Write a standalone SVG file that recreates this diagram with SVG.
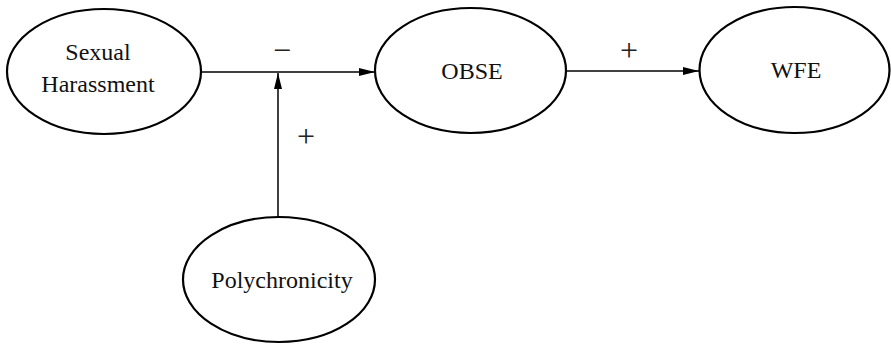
<svg xmlns="http://www.w3.org/2000/svg" width="891" height="344" viewBox="0 0 891 344">
<style>
.node ellipse{fill:#fff;stroke:#000;stroke-width:2.2}
text{font-family:"Liberation Serif","Times New Roman",serif;fill:#111}
.lbl{font-size:24px;text-anchor:middle}
.sign{font-size:32px;text-anchor:middle;fill:#222}
.edge{stroke:#000;stroke-width:1.5;fill:none}
</style>
<defs>
<marker id="arr" markerWidth="16" markerHeight="8" refX="16" refY="4" orient="auto" markerUnits="userSpaceOnUse">
<path d="M0,0 L16,4 L0,8 Z" fill="#000"/>
</marker>
</defs>
<rect width="891" height="344" fill="#fff"/>
<g id="connectors">
<line class="edge" x1="201" y1="72" x2="375" y2="72" marker-end="url(#arr)"/>
<line class="edge" x1="278" y1="217" x2="278" y2="73" marker-end="url(#arr)"/>
<line class="edge" x1="566" y1="71" x2="699" y2="71" marker-end="url(#arr)"/>
<text class="sign" x="282" y="61">−</text>
<text class="sign" x="306" y="147">+</text>
<text class="sign" x="629" y="61">+</text>
</g>
<g id="sexual-harassment" class="node">
<ellipse cx="104" cy="71.5" rx="97" ry="62.5"/>
<text class="lbl" x="98" y="60">Sexual</text>
<text class="lbl" x="98" y="92">Harassment</text>
</g>
<g id="obse" class="node">
<ellipse cx="470.5" cy="70.5" rx="95.5" ry="62.5"/>
<text class="lbl" x="472" y="79">OBSE</text>
</g>
<g id="wfe" class="node">
<ellipse cx="794.5" cy="70" rx="95" ry="63"/>
<text class="lbl" x="796" y="78">WFE</text>
</g>
<g id="polychronicity" class="node">
<ellipse cx="279" cy="279.5" rx="96" ry="62.5"/>
<text class="lbl" x="282" y="288">Polychronicity</text>
</g>
</svg>
